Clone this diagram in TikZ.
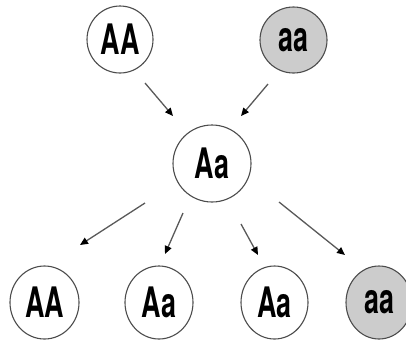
\documentclass[tikz,border=0pt]{standalone}
\usepackage{fontspec}
\setmainfont{TeX Gyre Heros}[FakeStretch=0.64]
\usetikzlibrary{arrows.meta,shapes.geometric}
\begin{document}
\begin{tikzpicture}[x=1pt,y=-1pt,
  geno/.style={ellipse, draw=black!70, line width=1.1pt, inner sep=0pt,
    font=\fontsize{42}{42}\selectfont\bfseries},
  dom/.style={geno, fill=white},
  rec/.style={geno, fill=black!20},
  cross/.style={draw=black!65, line width=1.3pt,
    -{Triangle[length=8pt,width=7pt,color=black,fill=black]}}]
\useasboundingbox (0,0) rectangle (406,341);
% parents
\node[dom, minimum width=66pt, minimum height=67pt] (pAA) at (120,39.5) {AA};
\node[rec, minimum width=67pt, minimum height=66pt] (paa) at (293.5,40) {aa};
% F1 hybrid
\node[dom, minimum width=78pt, minimum height=77pt] (f1) at (212,163.5) {Aa};
% F2 offspring
\node[dom, minimum width=69pt, minimum height=73pt] (oAA) at (44.5,302.5) {AA};
\node[dom, minimum width=68pt, minimum height=73pt] (oAa1) at (159,302.5) {Aa};
\node[dom, minimum width=67pt, minimum height=73pt] (oAa2) at (274.5,302.5) {Aa};
\node[rec, minimum width=66pt, minimum height=73pt] (oaa) at (379,302.5) {aa};
% arrow end points
\coordinate (s1) at (145,83);  \coordinate (e1) at (173,116);
\coordinate (s2) at (268,84);  \coordinate (e2) at (241,116);
\coordinate (s3) at (145,203); \coordinate (e3) at (80,245);
\coordinate (s4) at (183,213); \coordinate (e4) at (165,254);
\coordinate (s5) at (241,224); \coordinate (e5) at (258,255);
\coordinate (s6) at (279,202); \coordinate (e6) at (345,255);
\draw[cross] (s1) -- (e1);
\draw[cross] (s2) -- (e2);
\draw[cross] (s3) -- (e3);
\draw[cross] (s4) -- (e4);
\draw[cross] (s5) -- (e5);
\draw[cross] (s6) -- (e6);
\end{tikzpicture}
\end{document}
